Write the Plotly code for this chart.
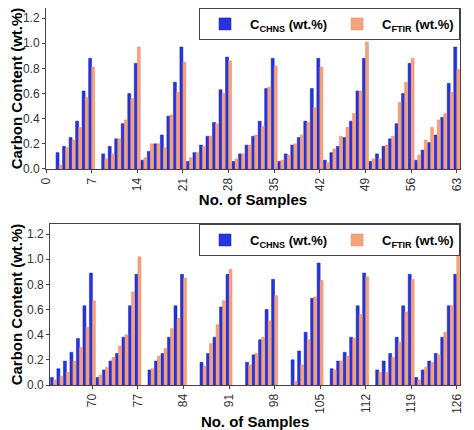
import plotly.graph_objects as go
from plotly.subplots import make_subplots

# samples 1..63 (top) and 64..126 (bottom); None = no measurement
chns_top = [None, 0.13, 0.18, 0.25, 0.38, 0.62, 0.88,
            None, 0.12, 0.18, 0.24, 0.36, 0.60, 0.84,
            0.07, 0.14, 0.20, 0.27, 0.42, 0.69, 0.97,
            0.06, 0.13, 0.19, 0.26, 0.37, 0.63, 0.89,
            0.06, 0.12, 0.19, 0.26, 0.38, 0.64, 0.88,
            0.06, 0.12, 0.19, 0.25, 0.38, 0.64, 0.88,
            0.07, 0.13, 0.18, 0.25, 0.38, 0.62, 0.88,
            0.06, 0.12, 0.18, 0.24, 0.36, 0.60, 0.84,
            0.07, 0.15, 0.21, 0.27, 0.41, 0.68, 0.97]
ftir_top = [None, 0.03, 0.17, 0.23, 0.33, 0.57, 0.81,
            None, 0.08, 0.12, 0.24, 0.39, 0.56, 0.97,
            0.09, 0.20, 0.20, 0.17, 0.43, 0.61, 0.85,
            0.09, 0.13, 0.18, 0.26, 0.36, 0.60, 0.86,
            0.08, 0.12, 0.19, 0.27, 0.34, 0.65, 0.82,
            0.07, 0.11, 0.20, 0.27, 0.37, 0.49, 0.81,
            0.05, 0.16, 0.26, 0.33, 0.44, 0.62, 1.01,
            0.08, 0.08, 0.19, 0.26, 0.53, 0.69, 0.88,
            0.11, 0.23, 0.33, 0.39, 0.44, 0.61, 0.79]
chns_bot = [0.06, 0.13, 0.19, 0.26, 0.37, 0.63, 0.89,
            0.06, 0.12, 0.19, 0.25, 0.38, 0.63, 0.88,
            None, 0.12, 0.19, 0.25, 0.38, 0.63, 0.88,
            None, None, 0.18, 0.25, 0.38, 0.62, 0.88,
            None, None, 0.18, 0.24, 0.36, 0.60, 0.84,
            None, None, 0.20, 0.27, 0.42, 0.69, 0.97,
            None, 0.13, 0.19, 0.26, 0.38, 0.63, 0.89,
            None, 0.12, 0.19, 0.25, 0.38, 0.63, 0.88,
            0.06, 0.12, 0.19, 0.25, 0.38, 0.63, 0.88]
ftir_bot = [0.04, 0.07, 0.10, 0.19, 0.30, 0.46, 0.67,
            0.08, 0.14, 0.22, 0.31, 0.40, 0.74, 1.02,
            None, 0.13, 0.23, 0.29, 0.45, 0.53, 0.85,
            None, None, 0.15, 0.33, 0.48, 0.67, 0.92,
            None, None, 0.16, 0.25, 0.38, 0.51, 0.71,
            None, None, 0.03, 0.16, 0.36, 0.70, 0.83,
            None, 0.12, 0.19, 0.23, 0.37, 0.56, 0.86,
            None, 0.10, 0.10, 0.22, 0.34, 0.58, 0.84,
            0.04, 0.14, 0.18, 0.24, 0.42, 0.63, 1.09]
x_top = list(range(1, 64))
x_bot = list(range(64, 127))
ticks_top = list(range(0, 64, 7))
ticks_bot = list(range(70, 127, 7))

blue = "#2633e0"
orange = "#f4a37c"

fig = make_subplots(rows=2, cols=1)
name_c = "<b>C<sub>CHNS</sub> (wt.%)</b>"
name_f = "<b>C<sub>FTIR</sub> (wt.%)</b>"
for row, xs, c, f, lg in [(1, x_top, chns_top, ftir_top, "legend"),
                          (2, x_bot, chns_bot, ftir_bot, "legend2")]:
    fig.add_trace(go.Bar(x=xs, y=c, name=name_c, legend=lg,
                         marker=dict(color=blue, line=dict(color="#1020b0", width=0.5))),
                  row=row, col=1)
    fig.add_trace(go.Bar(x=xs, y=f, name=name_f, legend=lg,
                         marker=dict(color=orange, line=dict(color="#e8866a", width=0.5))),
                  row=row, col=1)

axis_font = dict(family="Arial, Liberation Sans", size=12, color="#333")
title_font = dict(family="Arial, Liberation Sans", size=15, color="black")
for row, ticks, rng in [(1, ticks_top, [0, 63.5]), (2, ticks_bot, [63.5, 126.5])]:
    fig.update_xaxes(range=rng, tickvals=ticks, tickangle=-90, tickfont=axis_font,
                     title=dict(text="<b>No. of Samples</b>", font=title_font, standoff=4),
                     showline=True, mirror=True, linecolor="#444", linewidth=1,
                     ticks="outside", ticklen=3, showgrid=False, automargin=False,
                     row=row, col=1)
    fig.update_yaxes(range=[0, 1.28], dtick=0.2, tickformat=".1f", tickfont=axis_font,
                     title=dict(text="<b>Carbon Content (wt.%)</b>", font=title_font, standoff=2),
                     showline=True, mirror=True, linecolor="#444", linewidth=1,
                     ticks="outside", ticklen=3, showgrid=False, zeroline=False,
                     automargin=False, row=row, col=1)

fig.update_layout(yaxis=dict(domain=[0.573, 1.0]), yaxis2=dict(domain=[0.0, 0.427]),
                  xaxis=dict(domain=[0, 1]), xaxis2=dict(domain=[0.01, 1]))

leg = dict(orientation="h", x=1, xanchor="right", yanchor="top",
           bgcolor="white", bordercolor="#444", borderwidth=1,
           font=dict(family="Arial, Liberation Sans", size=13, color="black"),
           itemwidth=40, tracegroupgap=0)
fig.update_layout(
    width=466, height=422, barmode="group", bargap=0.08, bargroupgap=0,
    plot_bgcolor="white", paper_bgcolor="white",
    margin=dict(l=38, r=14, t=0, b=45),
    legend=dict(leg, y=1.0),
    legend2=dict(leg, y=0.427),
)
fig.write_html("out.html")
